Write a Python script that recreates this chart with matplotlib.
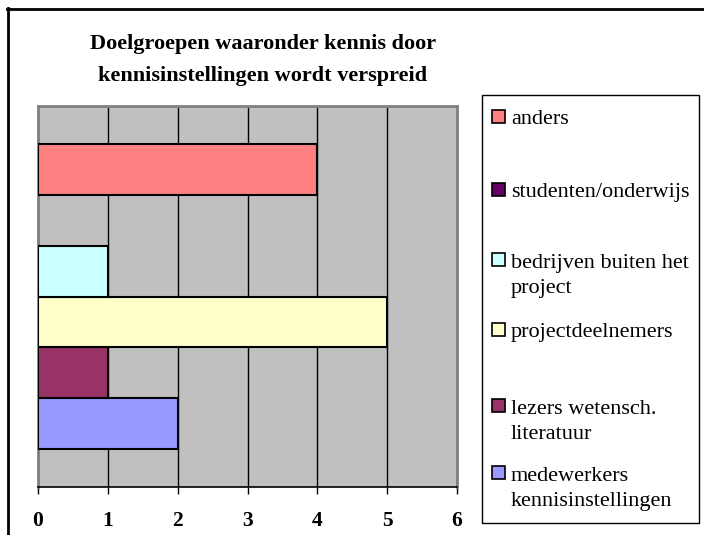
import matplotlib
matplotlib.use('Agg')
import matplotlib.pyplot as plt
from matplotlib.patches import Rectangle
from matplotlib.lines import Line2D

# ---- data ----
categories = ['medewerkers\nkennisinstellingen', 'lezers wetensch.\nliteratuur',
              'projectdeelnemers', 'bedrijven buiten het\nproject',
              'studenten/onderwijs', 'anders']
values = [2, 1, 5, 1, 0, 4]
colors = ['#9999FF', '#993366', '#FFFFCC', '#CCFFFF', '#660066', '#FF8080']
xticks = [0, 1, 2, 3, 4, 5, 6]
title = 'Doelgroepen waaronder kennis door\nkennisinstellingen wordt verspreid'

# ---- layout (pixels) ----
W, H = 704, 535
SERIF = ['Liberation Serif', 'DejaVu Serif']

fig = plt.figure(figsize=(W / 100, H / 100), dpi=100)
fig.patch.set_facecolor('white')

def fx(px):
    return px / W

def fy(py):
    return 1 - py / H

ax = fig.add_axes([fx(38), fy(487), fx(457) - fx(38), fy(106) - fy(487)])
ax.set_facecolor('#C0C0C0')

pos = list(range(len(values)))
edge = ['black' if v > 0 else 'none' for v in values]
ax.barh(pos, values, height=1.0, color=colors, edgecolor=edge, linewidth=1.5, zorder=3)
ax.set_xlim(0, 6)
ax.set_ylim(-1.25, 6.25)
ax.set_xticks(xticks)
ax.set_xticklabels([str(t) for t in xticks], fontfamily=SERIF, fontweight='bold', fontsize=15.5)
ax.set_yticks([])
ax.xaxis.grid(True, color='black', linewidth=1.0, zorder=1)
ax.set_axisbelow(True)
for s in ['top', 'left', 'right']:
    ax.spines[s].set_color('#808080')
    ax.spines[s].set_linewidth(2)
ax.spines['bottom'].set_color('black')
ax.spines['bottom'].set_linewidth(1.2)
ax.tick_params(axis='x', direction='out', length=5, width=1, pad=12, colors='black')

# ---- title (anchored at baseline of last line) ----
fig.text(fx(263), fy(81), title, ha='center', va='baseline', fontfamily=SERIF,
         fontweight='bold', fontsize=16, linespacing=1.83)

# ---- legend (manual, Excel-like) ----
fig.add_artist(Rectangle((fx(482), fy(523)), fx(699) - fx(482), fy(95) - fy(523),
                         transform=fig.transFigure, facecolor='white',
                         edgecolor='black', linewidth=1.0))
LINE = 26
legend_first_baselines = [480, 413, 337, 267, 197, 124]
for lab, col, yb in zip(categories, colors, legend_first_baselines):
    nlines = lab.count('\n') + 1
    fig.add_artist(Rectangle((fx(492), fy(yb - 1)), fx(13), fy(yb - 14) - fy(yb - 1),
                             transform=fig.transFigure, facecolor=col,
                             edgecolor='black', linewidth=1.2))
    fig.text(fx(511), fy(yb + LINE * (nlines - 1)), lab, ha='left', va='baseline',
             fontfamily=SERIF, fontsize=16, linespacing=1.4)

# ---- outer chart border (left + top) ----
fig.add_artist(Line2D([fx(8), fx(8)], [fy(8), 0], transform=fig.transFigure,
                      color='black', linewidth=2))
fig.add_artist(Line2D([fx(7), 1], [fy(9), fy(9)], transform=fig.transFigure,
                      color='black', linewidth=2))

fig.savefig('out.png', dpi=100)
